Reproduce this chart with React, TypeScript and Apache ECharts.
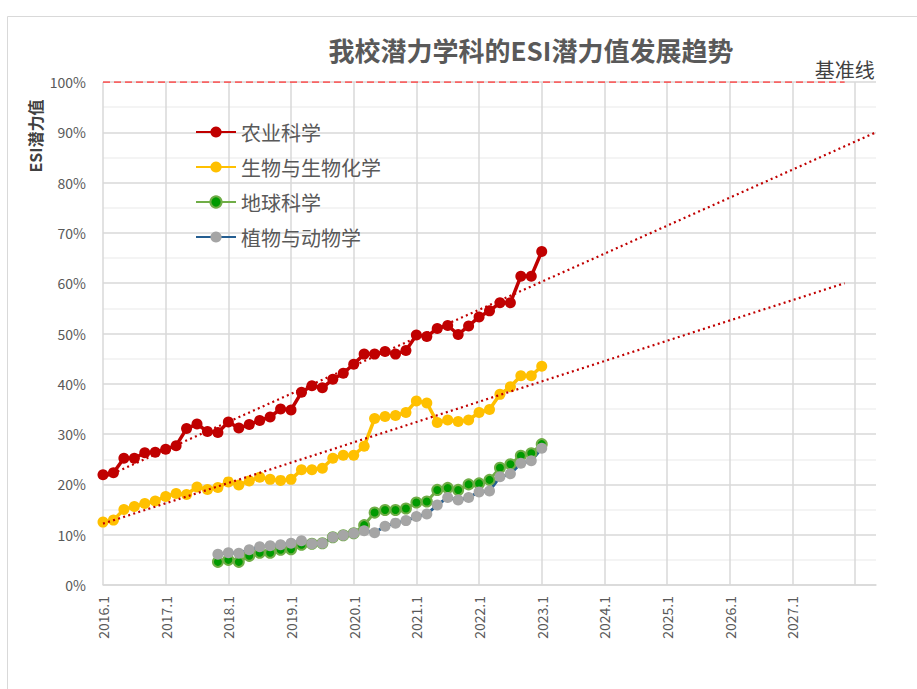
import React, { useEffect, useRef } from "react";
import * as echarts from "echarts";

// ---- data ----
const years = [2016, 2017, 2018, 2019, 2020, 2021, 2022, 2023, 2024, 2025, 2026, 2027, 2028];
const months = [1, 3, 5, 7, 9, 11];
const periodCount = 75; // 2016.1 .. 2028.5
const categories: string[] = [];
years.forEach((y) => months.forEach((m) => categories.push(`${y}.${m}`)));
categories.length = periodCount;

const xTickLabels = [
  "2016.1", "2017.1", "2018.1", "2019.1", "2020.1", "2021.1",
  "2022.1", "2023.1", "2024.1", "2025.1", "2026.1", "2027.1",
];

// 2016.1 .. 2023.1 (bimonthly)
const agriculture = [
  21.9, 22.3, 25.2, 25.2, 26.3, 26.4, 27.0, 27.7, 31.1, 32.0,
  30.5, 30.3, 32.4, 31.2, 31.9, 32.7, 33.4, 35.0, 34.8, 38.3,
  39.6, 39.2, 40.9, 42.1, 43.9, 45.9, 45.9, 46.4, 45.9, 46.6,
  49.7, 49.4, 51.0, 51.6, 49.8, 51.5, 53.3, 54.5, 56.1, 56.1,
  61.4, 61.4, 66.3,
];
const biology = [
  12.5, 12.9, 15.0, 15.6, 16.2, 16.7, 17.6, 18.2, 18.0, 19.5,
  19.0, 19.4, 20.5, 19.9, 20.7, 21.4, 21.0, 20.8, 21.0, 22.9,
  22.9, 23.2, 25.2, 25.8, 25.8, 27.6, 33.1, 33.5, 33.7, 34.3,
  36.6, 36.2, 32.3, 32.8, 32.5, 32.8, 34.3, 34.9, 37.9, 39.4,
  41.6, 41.6, 43.5,
];
// 2017.11 .. 2023.1
const geoStart = "2017.11";
const geosciences = [
  4.6, 5.0, 4.6, 5.8, 6.4, 6.4, 7.0, 7.1, 8.0, 8.2,
  8.3, 9.5, 9.9, 10.3, 11.9, 14.4, 14.9, 14.9, 15.2, 16.4,
  16.6, 18.9, 19.3, 18.9, 20.0, 20.2, 20.9, 23.3, 24.0, 25.7,
  26.2, 28.0,
];
const plantAnimal = [
  6.1, 6.4, 6.3, 7.0, 7.6, 7.8, 8.0, 8.3, 8.8, 8.2,
  8.3, 9.5, 9.9, 10.3, 10.8, 10.4, 11.7, 12.3, 12.8, 13.6,
  14.1, 15.9, 17.4, 16.9, 17.4, 18.5, 18.7, 21.5, 22.1, 24.2,
  24.7, 27.2,
];

// trend lines (start / end)
const trendAgri: [string, number][] = [["2016.1", 21.3], ["2028.5", 90.0]];
const trendBio: [string, number][] = [["2016.1", 12.2], ["2027.11", 60.0]];
const baseline: [string, number][] = [["2016.1", 100], ["2027.11", 100]];

const seriesNames = ["农业科学", "生物与生物化学", "地球科学", "植物与动物学"];

const FONT = "'Noto Sans CJK SC', 'Noto Sans', sans-serif";

function pad(startCat: string, values: number[]) {
  const start = categories.indexOf(startCat);
  const out: (number | null)[] = [];
  for (let i = 0; i < start; i++) out.push(null);
  return out.concat(values);
}

export default function App() {
  const ref = useRef<HTMLDivElement>(null);
  useEffect(() => {
    if (!ref.current) return;
    const chart = echarts.init(ref.current, null, { renderer: "svg" });
    const dataSeriesBase = {
      type: "line",
      symbol: "circle",
      symbolSize: 11,
      showSymbol: true,
      showAllSymbol: true,
      z: 3,
    };
    chart.setOption({
      animation: false,
      backgroundColor: "#ffffff",
      title: {
        text: "我校潜力学科的ESI潜力值发展趋势",
        left: 526,
        top: 31,
        textAlign: "center",
        textStyle: { fontFamily: FONT, fontSize: 26, fontWeight: "bold", color: "#595959" },
      },
      legend: {
        data: seriesNames,
        orient: "vertical",
        left: 190,
        top: 117,
        itemWidth: 40,
        itemHeight: 14,
        itemGap: 15,
        textStyle: { fontFamily: FONT, fontSize: 20, color: "#595959", lineHeight: 20 },
      },
      grid: { left: 103, right: 41, top: 82, bottom: 104, containLabel: false },
      xAxis: {
        type: "category",
        data: categories,
        boundaryGap: false,
        axisLine: { show: true, lineStyle: { color: "#d9d9d9", width: 1.5 } },
        axisTick: { show: false },
        axisLabel: {
          interval: 5,
          rotate: 90,
          margin: 11,
          fontFamily: FONT,
          fontSize: 14,
          color: "#595959",
          formatter: (v: string) => (xTickLabels.includes(v) ? v : ""),
        },
        splitLine: { show: true, interval: 5, lineStyle: { color: "#d9d9d9", width: 1.5 } },
      },
      yAxis: {
        type: "value",
        min: 0,
        max: 100,
        interval: 10,
        axisLine: { show: false },
        axisTick: { show: false },
        axisLabel: {
          formatter: "{value}%",
          margin: 17,
          fontFamily: FONT,
          fontSize: 14,
          color: "#595959",
        },
        splitLine: { lineStyle: { color: "#d9d9d9", width: 1.5 } },
        minorTick: { show: false, splitNumber: 2 },
        minorSplitLine: { show: true, lineStyle: { color: "#f0f0f0", width: 1.5 } },
      },
      graphic: [
        {
          type: "rect",
          shape: { x: 7.5, y: 16.5, width: 1000, height: 1000 },
          style: { fill: "none", stroke: "#d9d9d9", lineWidth: 1 },
          silent: true,
        },
        {
          type: "text",
          x: 35,
          y: 136,
          rotation: Math.PI / 2,
          style: {
            text: "ESI潜力值",
            fontFamily: FONT,
            fontSize: 16,
            fontWeight: "bold",
            fill: "#404040",
            align: "center",
            verticalAlign: "middle",
          },
        },
      ],
      series: [
        {
          ...dataSeriesBase,
          name: seriesNames[0],
          data: agriculture,
          lineStyle: { color: "#C00000", width: 3.5 },
          itemStyle: { color: "#C00000" },
        },
        {
          ...dataSeriesBase,
          name: seriesNames[1],
          data: biology,
          lineStyle: { color: "#FFC000", width: 3.5 },
          itemStyle: { color: "#FFC000" },
        },
        {
          ...dataSeriesBase,
          name: seriesNames[2],
          data: pad(geoStart, geosciences),
          symbolSize: 10,
          lineStyle: { color: "#70AD47", width: 3 },
          itemStyle: { color: "#009A00", borderColor: "#70AD47", borderWidth: 2 },
        },
        {
          ...dataSeriesBase,
          name: seriesNames[3],
          data: pad(geoStart, plantAnimal),
          lineStyle: { color: "#255E91", width: 3 },
          itemStyle: { color: "#A5A5A5" },
        },
        {
          type: "line",
          name: "trend1",
          data: trendAgri,
          symbol: "none",
          silent: true,
          z: 4,
          lineStyle: { color: "#C00000", width: 2.2, type: [2, 3.3] },
        },
        {
          type: "line",
          name: "trend2",
          data: trendBio,
          symbol: "none",
          silent: true,
          z: 4,
          lineStyle: { color: "#C00000", width: 2.2, type: [2, 3.3] },
        },
        {
          type: "line",
          name: "基准线",
          data: baseline.map((d, i) =>
            i === baseline.length - 1
              ? {
                  value: d,
                  label: {
                    show: true,
                    position: "top",
                    distance: 2,
                    formatter: "基准线",
                    fontFamily: FONT,
                    fontSize: 20,
                    color: "#404040",
                  },
                }
              : { value: d }
          ),
          symbol: "circle",
          symbolSize: 0.1,
          showSymbol: true,
          silent: true,
          z: 2,
          itemStyle: { color: "#FF3B3B" },
          lineStyle: { color: "#FF3B3B", width: 1.5, type: [7, 4] },
        },
      ],
    });
    return () => chart.dispose();
  }, []);
  return (
    <div
      ref={ref}
      style={{ position: "fixed", left: 0, top: 0, width: 917, height: 689, background: "#fff" }}
    />
  );
}
